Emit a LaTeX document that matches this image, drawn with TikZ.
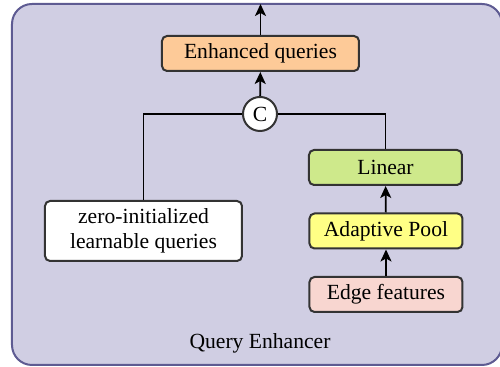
\documentclass[tikz,border=0pt]{standalone}
\usepackage{fontspec}
\setmainfont{Liberation Serif}
\usetikzlibrary{arrows.meta}
\definecolor{panelfill}{HTML}{D0CEE3}
\definecolor{paneldraw}{HTML}{5E5B92}
\definecolor{orangefill}{HTML}{FDCA98}
\definecolor{greenfill}{HTML}{CEE98B}
\definecolor{yellowfill}{HTML}{FFFF85}
\definecolor{pinkfill}{HTML}{F8D6D0}
\definecolor{boxdraw}{HTML}{333333}
\tikzset{
  blk/.style={draw=boxdraw, line width=1pt, rounded corners=2.5pt,
    minimum height=17.5pt, inner sep=0pt, align=center,
    font=\fontsize{10.8}{12.6}\selectfont},
  wide/.style={blk, minimum width=98.5pt},
  narrow/.style={blk, minimum width=76.5pt},
  conn/.style={line width=0.9pt, black},
  arr/.style={conn, -{Stealth[length=6pt,width=5.5pt,inset=1.5pt]}},
}
\begin{document}
\begin{tikzpicture}[x=0.5pt, y=-0.5pt]
  \useasboundingbox (0,0) rectangle (500,367);
  \clip (0,0) rectangle (500,367);
  % module panel, running past the right edge
  \draw[draw=paneldraw, fill=panelfill, line width=1pt, rounded corners=10pt]
    (12,4) rectangle (502,365);
  \node[font=\fontsize{10.8}{12.6}\selectfont] (title) at (260,343) {Query Enhancer};

  % blocks
  \node[wide, fill=orangefill] (enh) at (260.5,53.5) {Enhanced queries};
  \node[draw=boxdraw, fill=white, line width=1pt, circle, minimum size=17pt,
        inner sep=0pt, font=\fontsize{10.8}{12.6}\selectfont] (cat) at (260,114) {C};
  \node[narrow, fill=greenfill] (lin) at (385.5,167.5) {Linear};
  \node[narrow, fill=yellowfill] (pool) at (386,231) {Adaptive Pool};
  \node[narrow, fill=pinkfill] (edge) at (386,294.5) {Edge features};
  \node[wide, fill=white, minimum height=30pt] (zero) at (143.5,231)
    {zero-initialized\\learnable queries};
  \coordinate (out) at (260.5,4);

  % connectors
  \draw[arr] (edge) -- (pool);
  \draw[arr] (pool) -- (lin);
  \draw[conn] (lin.north) |- (cat.east);
  \draw[conn] (zero.north) |- (cat.west);
  \draw[arr] (cat) -- (enh);
  \draw[arr] (enh) -- (out);
\end{tikzpicture}
\end{document}
